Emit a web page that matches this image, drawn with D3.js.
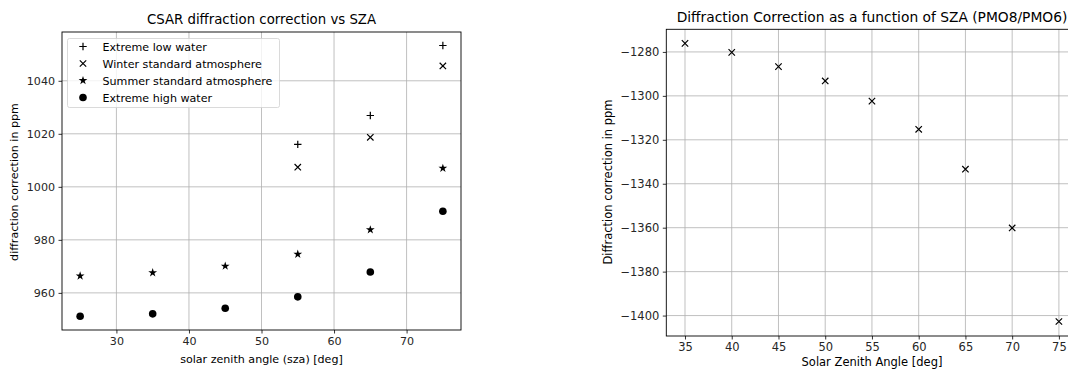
<!DOCTYPE html>
<html><head><meta charset="utf-8">
<script src="https://cdn.jsdelivr.net/npm/d3@7"></script>
<style>
body{margin:0;background:#fff;}
svg{display:block;font-family:"DejaVu Sans",sans-serif;}
</style></head>
<body><svg id="c" width="1068" height="369"></svg>
<script>
// ---- Left chart data ----
const szaLeft = [25, 35, 45, 55, 65, 75];
const lowWaterSza = [55, 65, 75];
const lowWater = [1016.0, 1026.9, 1053.3];
const winterSza = [55, 65, 75];
const winter = [1007.4, 1018.7, 1045.6];
const summer = [966.4, 967.6, 970.1, 974.6, 983.8, 1007.0];
const highWater = [951.2, 952.1, 954.2, 958.5, 967.9, 990.8];
const leftXTicks = [30, 40, 50, 60, 70];
const leftYTicks = [960, 980, 1000, 1020, 1040];
const legendLabels = ["Extreme low water", "Winter standard atmosphere", "Summer standard atmosphere", "Extreme high water"];

// ---- Right chart data ----
const szaRight = [35, 40, 45, 50, 55, 60, 65, 70, 75];
const pmo = [-1276.1, -1280.2, -1286.7, -1293.2, -1302.4, -1315.2, -1333.4, -1360.1, -1402.7];
const rightXTicks = [35, 40, 45, 50, 55, 60, 65, 70, 75];
const rightYTicks = [-1400, -1380, -1360, -1340, -1320, -1300, -1280];

const svg = d3.select("#c");
const grid = "#b0b0b0";

function markerPath(type, s) {
  if (type === "plus") return `M${-s},0H${s}M0,${-s}V${s}`;
  if (type === "x") return `M${-s},${-s}L${s},${s}M${-s},${s}L${s},${-s}`;
  return null;
}
function drawMarker(g, type, x, y) {
  if (type === "plus" || type === "x") {
    const s = type === "plus" ? 3.7 : 3.2;
    g.append("path").attr("transform", `translate(${x},${y})`)
      .attr("d", markerPath(type, s)).attr("stroke", "#000").attr("stroke-width", 1.2).attr("fill", "none");
  } else if (type === "star") {
    g.append("path").attr("transform", `translate(${x},${y})`)
      .attr("d", d3.symbol(d3.symbolStar, 24)()).attr("fill", "#000");
  } else {
    g.append("circle").attr("cx", x).attr("cy", y).attr("r", 3.8).attr("fill", "#000");
  }
}

function panel(opts) {
  const {x0, x1, y0, y1, xd, yd, xt, yt, fs} = opts;
  const x = d3.scaleLinear().domain(xd).range([x0, x1]);
  const y = d3.scaleLinear().domain(yd).range([y1, y0]);
  const g = svg.append("g");
  const clipId = "clip" + Math.round(x0);
  svg.append("clipPath").attr("id", clipId).append("rect")
    .attr("x", x0).attr("y", y0).attr("width", x1 - x0).attr("height", y1 - y0);
  g.append("g").selectAll("line").data(xt).join("line")
    .attr("x1", d => x(d)).attr("x2", d => x(d)).attr("y1", y0).attr("y2", y1)
    .attr("stroke", grid).attr("stroke-width", 0.8);
  g.append("g").selectAll("line").data(yt).join("line")
    .attr("y1", d => y(d)).attr("y2", d => y(d)).attr("x1", x0).attr("x2", x1)
    .attr("stroke", grid).attr("stroke-width", 0.8);
  const ax = g.append("g").attr("transform", `translate(0,${y1})`)
    .call(d3.axisBottom(x).tickValues(xt).tickSize(3.5).tickPadding(3.5).tickFormat(d3.format("d")));
  const ay = g.append("g").attr("transform", `translate(${x0},0)`)
    .call(d3.axisLeft(y).tickValues(yt).tickSize(3.5).tickPadding(3.5).tickFormat(d3.format("d")));
  [ax, ay].forEach(a => {
    a.select(".domain").remove();
    a.selectAll("text").attr("font-size", fs).attr("fill", "#262626").attr("font-family", "DejaVu Sans");
    a.selectAll("line").attr("stroke", "#000").attr("stroke-width", 0.8);
  });
  g.append("rect").attr("x", x0).attr("y", y0).attr("width", x1 - x0).attr("height", y1 - y0)
    .attr("fill", "none").attr("stroke", "#000").attr("stroke-width", 0.9);
  const pts = svg.append("g").attr("clip-path", `url(#${clipId})`);
  return {x, y, pts};
}

// Left panel
const fsL = 11.1, fsR = 11.5;
const L = panel({x0: 62, x1: 461, y0: 32, y1: 330, xd: [22.5, 77.5], yd: [946.0, 1058.4], xt: leftXTicks, yt: leftYTicks, fs: fsL});
lowWaterSza.forEach((s, i) => drawMarker(L.pts, "plus", L.x(s), L.y(lowWater[i])));
winterSza.forEach((s, i) => drawMarker(L.pts, "x", L.x(s), L.y(winter[i])));
szaLeft.forEach((s, i) => drawMarker(L.pts, "star", L.x(s), L.y(summer[i])));
szaLeft.forEach((s, i) => drawMarker(L.pts, "circle", L.x(s), L.y(highWater[i])));

svg.append("text").attr("x", 261.5).attr("y", 24).attr("text-anchor", "middle")
  .attr("font-size", 13.3).attr("fill", "#000").text("CSAR diffraction correction vs SZA");
svg.append("text").attr("x", 261.5).attr("y", 363).attr("text-anchor", "middle")
  .attr("font-size", fsL).attr("fill", "#000").text("solar zenith angle (sza) [deg]");
svg.append("text").attr("transform", "translate(18,182) rotate(-90)").attr("text-anchor", "middle")
  .attr("font-size", fsL).attr("fill", "#000").text("diffraction correction in ppm");

// legend
const lg = svg.append("g");
lg.append("rect").attr("x", 67.5).attr("y", 38.5).attr("width", 212).attr("height", 69).attr("rx", 2)
  .attr("fill", "#fff").attr("fill-opacity", 0.8).attr("stroke", "#d0d0d0").attr("stroke-width", 0.8);
const legTypes = ["plus", "x", "star", "circle"];
legendLabels.forEach((t, i) => {
  const yy = 46.5 + i * 17;
  drawMarker(lg, legTypes[i], 83, yy);
  lg.append("text").attr("x", 102.5).attr("y", yy + 4).attr("font-size", fsL).attr("fill", "#000").text(t);
});

// Right panel
const R = panel({x0: 666.3, x1: 1077.6, y0: 29.3, y1: 336, xd: [33, 77], yd: [-1409.3, -1269.7], xt: rightXTicks, yt: rightYTicks, fs: fsR});
szaRight.forEach((s, i) => drawMarker(R.pts, "x", R.x(s), R.y(pmo[i])));

svg.append("text").attr("x", 872).attr("y", 21.5).attr("text-anchor", "middle")
  .attr("font-size", 13.8).attr("fill", "#000").text("Diffraction Correction as a function of SZA (PMO8/PMO6)");
svg.append("text").attr("x", 872).attr("y", 365.5).attr("text-anchor", "middle")
  .attr("font-size", fsR).attr("fill", "#000").text("Solar Zenith Angle [deg]");
svg.append("text").attr("transform", "translate(612,182) rotate(-90)").attr("text-anchor", "middle")
  .attr("font-size", fsR).attr("fill", "#000").text("Diffraction correction in ppm");
</script></body></html>
